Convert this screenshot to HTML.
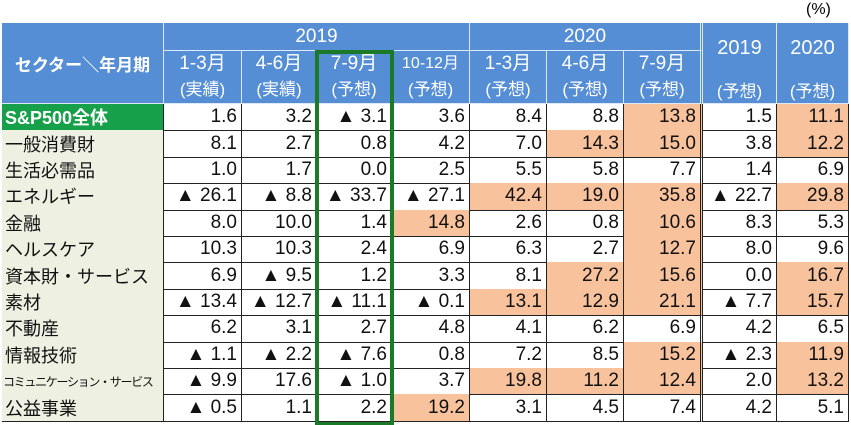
<!DOCTYPE html>
<html><head><meta charset="utf-8">
<style>
body{margin:0;width:851px;height:425px;background:#fff;overflow:hidden;font-family:"Liberation Sans","Noto Sans CJK JP",sans-serif;position:relative}
.c{position:absolute;box-sizing:border-box;display:flex;align-items:center;white-space:nowrap}
.h{background:#558ed5;color:#fff;justify-content:center;text-align:center;font-size:19px;border-right:1px solid #dfe8f5;border-bottom:1px solid #dfe8f5}
.d{border-right:1px solid #222;border-bottom:1px solid #222;font-size:19px;justify-content:flex-end;padding-right:4px;color:#111}
.n{background:#eef0e2;border-right:1px solid #222;border-bottom:1px solid #222;font-size:18px;padding-left:3px;color:#111}
.o{background:#f8c29c}
</style></head><body>
<div class="c" style="left:806px;top:1px;font-size:16px">(%)</div>
<div id="t"></div>
<div style="position:absolute;left:315px;top:50px;width:79px;height:375px;box-sizing:border-box;border:4px solid #1a7a28;border-bottom-width:3px"></div>
<script>
const sectors=["S&P500全体","一般消費財","生活必需品","エネルギー","金融","ヘルスケア","資本財・サービス","素材","不動産","情報技術","コミュニケーション・サービス","公益事業"];
const q1_19=[1.6,8.1,1.0,-26.1,8.0,10.3,6.9,-13.4,6.2,-1.1,-9.9,-0.5];
const q2_19=[3.2,2.7,1.7,-8.8,10.0,10.3,-9.5,-12.7,3.1,-2.2,17.6,1.1];
const q3_19=[-3.1,0.8,0.0,-33.7,1.4,2.4,1.2,-11.1,2.7,-7.6,-1.0,2.2];
const q4_19=[3.6,4.2,2.5,-27.1,14.8,6.9,3.3,-0.1,4.8,0.8,3.7,19.2];
const q1_20=[8.4,7.0,5.5,42.4,2.6,6.3,8.1,13.1,4.1,7.2,19.8,3.1];
const q2_20=[8.8,14.3,5.8,19.0,0.8,2.7,27.2,12.9,6.2,8.5,11.2,4.5];
const q3_20=[13.8,15.0,7.7,35.8,10.6,12.7,15.6,21.1,6.9,15.2,12.4,7.4];
const y2019=[1.5,3.8,1.4,-22.7,8.3,8.0,0.0,-7.7,4.2,-2.3,2.0,4.2];
const y2020=[11.1,12.2,6.9,29.8,5.3,9.6,16.7,15.7,6.5,11.9,13.2,5.1];
const series=[q1_19,q2_19,q3_19,q4_19,q1_20,q2_20,q3_20,y2019,y2020];
const periods=["1-3月","4-6月","7-9月","10-12月","1-3月","4-6月","7-9月"];
const notes=["(実績)","(実績)","(予想)","(予想)","(予想)","(予想)","(予想)"];
const colX=[2,164,242,317,392,470,547,624,703,777,849];
const T=document.getElementById('t');
function cell(cls,x,y,w,h,html){const d=document.createElement('div');d.className='c '+cls;d.style.left=x+'px';d.style.top=y+'px';d.style.width=w+'px';d.style.height=h+'px';d.innerHTML=html;T.appendChild(d);return d;}
const top0=23,h1=28,hdr=104,rh=26.4;
let e=cell('h',colX[0],top0,colX[1]-colX[0],hdr-top0,'セクター＼年月期');


e.style.fontWeight='bold';e.style.fontSize='17px';
e=cell('h',colX[1],top0,colX[5]-colX[1],h1,'2019');


e=cell('h',colX[5],top0,colX[8]-colX[5],h1,'2020');


e.style.borderRight='3px double #dfe8f5';
for(let i=0;i<7;i++){
 e=cell('h',colX[i+1],top0+h1,colX[i+2]-colX[i+1],hdr-top0-h1,'<div style="line-height:26px'+(i==3?';font-size:16px':'')+'">'+periods[i]+'<br><span style="font-size:17px">'+notes[i]+'</span></div>');
 
 
 if(i==6)e.style.borderRight='3px double #dfe8f5';
}
["2019","2020"].forEach((y,k)=>{
 e=cell('h',colX[8+k],top0,colX[9+k]-colX[8+k],hdr-top0,'<div style="font-size:20px;position:absolute;top:14px;width:100%">'+y+'</div><div style="font-size:17px;position:absolute;top:54px;width:100%">(予想)</div>');
 
 
});
function fmt(v){return v<0?'▲ '+Math.abs(v).toFixed(1):v.toFixed(1);}
for(let r=0;r<sectors.length;r++){
 const y=hdr+r*rh;
 e=cell('n',colX[0],y,colX[1]-colX[0],rh+1,sectors[r]);
 
 
 if(r==0){e.style.background='#16a04a';e.style.color='#fff';e.style.fontWeight='bold';e.style.fontSize='18px';}
 if(r==10){e.style.fontSize='12px';e.style.letterSpacing='-1.3px';e.style.paddingLeft='1px';}
 for(let c=0;c<9;c++){
  const v=series[c][r];
  const hi=(c>=3&&v>=10);
  e=cell('d'+(hi?' o':''),colX[c+1],y,colX[c+2]-colX[c+1],rh+1,fmt(v));
  
  
  if(c==6)e.style.borderRight='3px double #222';
 }
}
</script>
</body></html>
